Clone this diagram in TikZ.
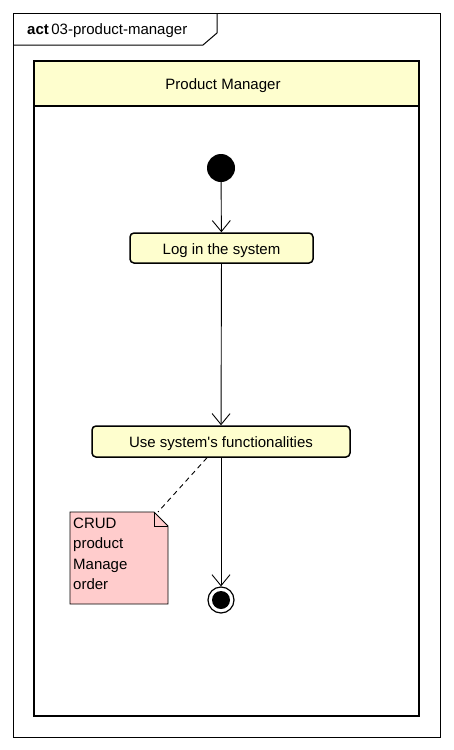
\documentclass[tikz,border=0pt]{standalone}
\usepackage{fontspec}
\setmainfont{Liberation Sans}
\usetikzlibrary{arrows.meta,calc}
\definecolor{actfill}{HTML}{FEFECE}
\definecolor{notefill}{HTML}{FFCCCC}
\tikzset{
  every node/.style={font=\fontsize{15}{18}\selectfont},
  action/.style={draw, line width=1.5pt, rounded corners=4pt, fill=actfill, inner sep=0pt, text height=12.5pt, text depth=0pt},
  flow/.style={draw, line width=0.9pt, -{Straight Barb[length=11pt,width=18pt,line width=0.9pt]}},
  noteline/.style={draw, line width=0.9pt, dashed, dash pattern=on 5pt off 4pt},
}
\begin{document}
\begin{tikzpicture}[x=1pt,y=-1pt]
\useasboundingbox (0,0) rectangle (453,750);
% outer frame
\node[draw, line width=1pt, minimum width=427pt, minimum height=724pt, anchor=north west, inner sep=0pt] (frame) at (13,13) {};
\coordinate (tabA) at (217,13);
\coordinate (tabB) at (217,33);
\coordinate (tabC) at (203,45);
\coordinate (tabD) at (13,45);
\draw[line width=1pt] (tabA) -- (tabB) -- (tabC) -- (tabD);
\node[anchor=west, inner sep=0pt] (title) at (27,31) {\textbf{act}\,03-product-manager};
% swimlane
\node[draw, line width=2pt, fill=actfill, minimum width=385pt, minimum height=45pt, anchor=north west, inner sep=0pt] (lanehead) at (33,60) {};
\node[inner sep=0pt] (lanetitle) at (223,86) {Product Manager};
\node[draw, line width=2pt, minimum width=385pt, minimum height=610pt, anchor=north west, inner sep=0pt] (lane) at (33,105) {};
% nodes
\node[circle, fill=black, minimum size=28pt, inner sep=0pt] (start) at (221,168) {};
\node[action, minimum width=183pt, minimum height=30pt] (login) at (221.5,248) {Log in the system\hspace{6pt}};
\node[action, minimum width=258pt, minimum height=31pt] (use) at (221,441.5) {Use system\textquotesingle s functionalities\hspace{6pt}};
\node[circle, draw, line width=1.2pt, fill=white, minimum size=26pt, inner sep=0pt] (stop) at (221,600) {};
\node[circle, fill=black, minimum size=18pt, inner sep=0pt] (stopin) at (221,600) {};
% note
\coordinate (n1) at (70,512);
\coordinate (n2) at (154,512);
\coordinate (n3) at (168,526);
\coordinate (n4) at (168,604);
\coordinate (n5) at (70,604);
\draw[line width=0.9pt, fill=notefill] (n1) -- (n2) -- (n3) -- (n4) -- (n5) -- cycle;
\draw[line width=0.9pt] (n2) -- (154,526) -- (n3);
\node[anchor=north west, align=left, inner sep=0pt, font=\fontsize{15}{20.3}\selectfont] (notetext) at (73,518) {CRUD\\product\\Manage\\order};
% connectors
\draw[flow] (start) -- (login);
\draw[flow] (login) -- (use);
\draw[flow] (use) -- (stop);
\draw[noteline] (use.south) ++(-14,0) coordinate (nl) -- (158,512);
\end{tikzpicture}
\end{document}
